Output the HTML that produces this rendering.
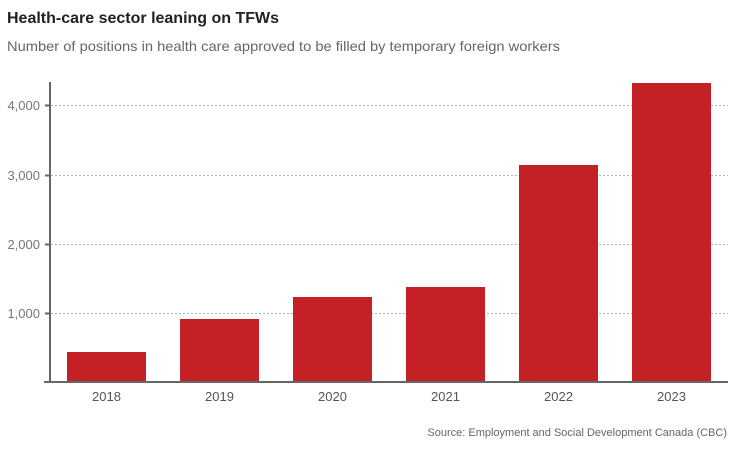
<!DOCTYPE html>
<html><head><meta charset="utf-8"><style>
body{margin:0;background:#fff;font-family:"Liberation Sans",sans-serif;}
</style></head><body>
<svg width="734" height="445" xmlns="http://www.w3.org/2000/svg" font-family="Liberation Sans, sans-serif">
<text x="7" y="23" font-size="16" font-weight="bold" fill="#222">Health-care sector leaning on TFWs</text>
<text x="7" y="51" font-size="14" fill="#666" textLength="553" lengthAdjust="spacingAndGlyphs">Number of positions in health care approved to be filled by temporary foreign workers</text>
<g stroke="#aab4bc" stroke-dasharray="2,2" stroke-width="1">
<line x1="51" x2="728" y1="105.5" y2="105.5"/>
<line x1="51" x2="728" y1="175.5" y2="175.5"/>
<line x1="51" x2="728" y1="244.5" y2="244.5"/>
<line x1="51" x2="728" y1="313.5" y2="313.5"/>
</g>
<g fill="#c42127">
<rect x="67" y="352" width="79" height="30"/>
<rect x="180" y="319" width="79" height="63"/>
<rect x="293" y="297" width="79" height="85"/>
<rect x="406" y="287" width="79" height="95"/>
<rect x="519" y="165" width="79" height="217"/>
<rect x="632" y="83" width="79" height="299"/>
</g>
<line x1="50" x2="50" y1="82" y2="383" stroke="#666" stroke-width="2"/>
<line x1="44" x2="728" y1="382" y2="382" stroke="#666" stroke-width="2"/>
<g stroke="#666" stroke-width="2">
<line x1="45" x2="50" y1="105.5" y2="105.5"/>
<line x1="45" x2="50" y1="175.5" y2="175.5"/>
<line x1="45" x2="50" y1="244.5" y2="244.5"/>
<line x1="45" x2="50" y1="313.5" y2="313.5"/>
</g>
<g font-size="13" fill="#777" text-anchor="end">
<text x="40" y="110">4,000</text>
<text x="40" y="180">3,000</text>
<text x="40" y="249">2,000</text>
<text x="40" y="318">1,000</text>
</g>
<g font-size="13" fill="#555" text-anchor="middle">
<text x="106.5" y="401">2018</text>
<text x="219.5" y="401">2019</text>
<text x="332.5" y="401">2020</text>
<text x="445.5" y="401">2021</text>
<text x="558.5" y="401">2022</text>
<text x="671.5" y="401">2023</text>
</g>
<text x="727" y="436" font-size="11" fill="#666" text-anchor="end">Source: Employment and Social Development Canada (CBC)</text>
</svg>
</body></html>
